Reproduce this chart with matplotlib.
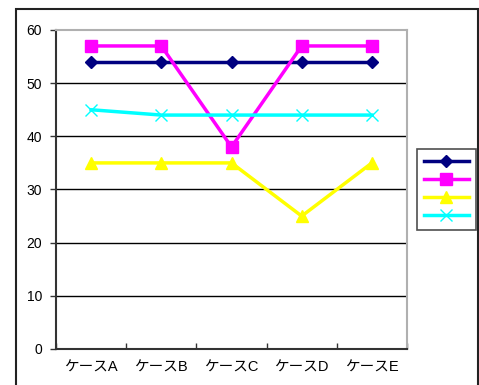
import matplotlib
matplotlib.use("Agg")
import matplotlib.pyplot as plt
from matplotlib.patches import Rectangle

plt.rcParams['font.family'] = ['Liberation Sans', 'Noto Sans CJK JP', 'DejaVu Sans']

categories = ["ケースA", "ケースB", "ケースC", "ケースD", "ケースE"]
series_navy = [54, 54, 54, 54, 54]
series_magenta = [57, 57, 38, 57, 57]
series_yellow = [35, 35, 35, 25, 35]
series_cyan = [45, 44, 44, 44, 44]
y_ticks = [0, 10, 20, 30, 40, 50, 60]

W, H = 479, 385
fig = plt.figure(figsize=(W / 100, H / 100), dpi=100)

# outer chart frame
fig.patches.append(Rectangle((16 / W, -0.05), (478 - 16) / W, 1.05 - 9 / H,
                             transform=fig.transFigure, fill=False,
                             edgecolor='#222222', linewidth=1.5))

ax = fig.add_axes([56 / W, 1 - 349 / H, (407 - 56) / W, (349 - 30) / H])
x = list(range(len(categories)))

for yv in y_ticks[1:-1]:
    ax.axhline(yv, color='black', linewidth=1, zorder=1)

h1, = ax.plot(x, series_navy, color='#000080', marker='D', markersize=6.5,
              linewidth=2.5, zorder=3)
h2, = ax.plot(x, series_magenta, color='#FF00FF', marker='s', markersize=8,
              linewidth=2.5, zorder=3)
h3, = ax.plot(x, series_yellow, color='#FFFF00', marker='^', markersize=9,
              linewidth=2.5, zorder=3)
h4, = ax.plot(x, series_cyan, color='#00FFFF', marker='x', markersize=9,
              markeredgewidth=1, linewidth=2.5, zorder=3)

ax.set_xlim(-0.5, len(categories) - 0.5)
ax.set_ylim(0, 60)
ax.set_yticks(y_ticks)
ax.set_yticklabels([str(v) for v in y_ticks], fontsize=10)
ax.set_xticks(x)
ax.set_xticklabels(categories, fontsize=10.5)
ax.tick_params(axis='x', which='major', length=0, pad=8)
ax.set_xticks([i + 0.5 for i in range(-1, len(categories))], minor=True)
ax.tick_params(axis='x', which='minor', length=4, width=1, color='#333333', direction='in')
ax.tick_params(axis='y', length=4, width=1, color='#333333', direction='out', pad=6)

ax.spines['left'].set_color('#333333')
ax.spines['bottom'].set_color('#333333')
ax.spines['left'].set_linewidth(1.5)
ax.spines['bottom'].set_linewidth(1.5)
ax.spines['top'].set_color('#b0b0b0')
ax.spines['right'].set_color('#b0b0b0')
ax.spines['top'].set_linewidth(1.5)
ax.spines['right'].set_linewidth(1.5)

leg = fig.legend([h1, h2, h3, h4], ['', '', '', ''],
                 loc='upper left', bbox_to_anchor=(417 / W, 1 - 149 / H),
                 bbox_transform=fig.transFigure, borderaxespad=0,
                 fancybox=False, frameon=True, fontsize=9,
                 handlelength=3.6, handletextpad=0, borderpad=0.55,
                 labelspacing=0.5)
leg.get_frame().set_edgecolor('#222222')
leg.get_frame().set_linewidth(1.2)

fig.savefig("out.png", dpi=100)
